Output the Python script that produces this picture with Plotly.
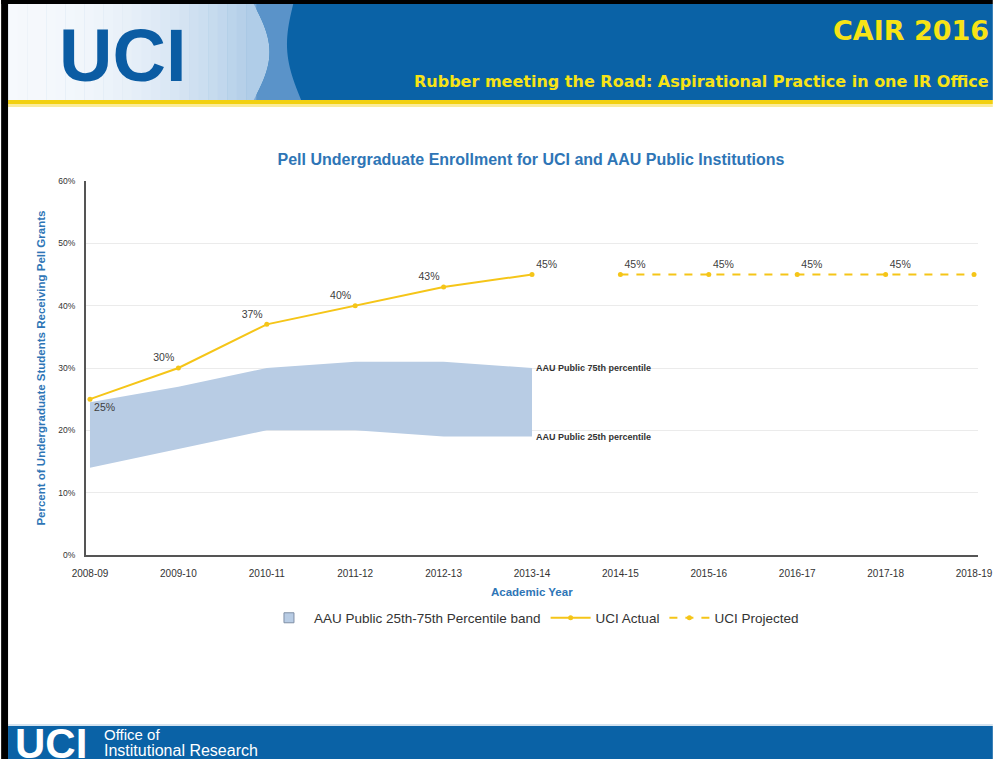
import math
import plotly.graph_objects as go

# ---------------- data ----------------
years = ["2008-09", "2009-10", "2010-11", "2011-12", "2012-13", "2013-14",
         "2014-15", "2015-16", "2016-17", "2017-18", "2018-19"]
actual_years = years[:6]
actual_vals = [25, 30, 37, 40, 43, 45]
proj_years = years[6:]
proj_vals = [45, 45, 45, 45, 45]
band_years = years[:6]
band_p25 = [14, 17, 20, 20, 19, 19]
band_p75 = [24.5, 27, 30, 31, 31, 30]
y_ticks = [0, 10, 20, 30, 40, 50, 60]
y_tick_labels = ["0%", "10%", "20%", "30%", "40%", "50%", "60%"]

# ---------------- geometry helpers ----------------
W, H = 1005, 759
L, R, T, B = 86, 15, 181, 204
PW, PH = W - L - R, H - T - B


def px(x):
    return (x - L) / PW


def py(y):
    return (H - B - y) / PH


BLUE = "#0A62A6"
YELLOW_LINE = "#F5C518"
TITLE_BLUE = "#2E75B6"
BAND = "#B8CCE4"
FONT = "Liberation Sans"

fig = go.Figure()

# band (lower invisible + upper filled)
fig.add_trace(go.Scatter(x=band_years, y=band_p25, mode="lines",
                         line=dict(width=0, color=BAND),
                         showlegend=False, hoverinfo="skip"))
fig.add_trace(go.Scatter(x=band_years, y=band_p75, mode="lines",
                         line=dict(width=0, color=BAND),
                         fill="tonexty", fillcolor=BAND,
                         showlegend=False,
                         name="AAU Public 25th-75th Percentile band"))
# legend entry for band (square swatch)
fig.add_trace(go.Scatter(x=[None], y=[None], mode="markers",
                         marker=dict(symbol="square", size=10, color=BAND,
                                     line=dict(color="#7F8FA6", width=1)),
                         name="AAU Public 25th-75th Percentile band"))

pos_actual = ["bottom right", "top left", "top left", "top left", "top left", "top right"]
fig.add_trace(go.Scatter(x=actual_years, y=actual_vals, mode="lines+markers+text",
                         line=dict(color=YELLOW_LINE, width=2),
                         marker=dict(size=5, color=YELLOW_LINE),
                         text=[f"{v}%" for v in actual_vals],
                         textposition=pos_actual,
                         textfont=dict(size=10.5, color="#404040", family=FONT),
                         name="UCI Actual"))
fig.add_trace(go.Scatter(x=proj_years, y=proj_vals, mode="lines+markers+text",
                         line=dict(color=YELLOW_LINE, width=2, dash="8px,8px"),
                         marker=dict(size=5, color=YELLOW_LINE),
                         text=[f"{v}%" for v in proj_vals],
                         textposition="top right",
                         textfont=dict(size=10.5, color="#404040", family=FONT),
                         name="UCI Projected"))

shapes = []


def rect(x0, y0, x1, y1, color, layer="above"):
    shapes.append(dict(type="rect", xref="paper", yref="paper",
                       x0=px(x0), x1=px(x1), y0=py(y1), y1=py(y0),
                       fillcolor=color, line=dict(width=0), layer=layer))


# banner
rect(7, 4, 1005, 100, BLUE)
# light gradient on left
n = 26
c0 = (246, 249, 253)
c1 = (176, 205, 232)
for i in range(n):
    xa = 7 + i * (258 - 7) / n
    xb = 7 + (i + 1) * (258 - 7) / n + 0.6
    f = (i / (n - 1)) ** 2.2
    c = tuple(int(c0[k] + (c1[k] - c0[k]) * f) for k in range(3))
    rect(xa, 4, xb, 100, "rgb(%d,%d,%d)" % c)


def path(pts_px):
    s = ""
    for i, (x, y) in enumerate(pts_px):
        s += ("M" if i == 0 else "L") + f"{px(x):.5f},{py(y):.5f} "
    return s + "Z"


# swoosh shapes
left_edge = [(256 + 16 * math.sin(math.pi * (y - 4) / 96), y) for y in range(4, 101, 4)]
right_edge = [(296 - 10 * math.sin(math.pi * (y - 4) / 96) + 8 * (y - 4) / 96, y)
              for y in range(100, 3, -4)]
shapes.append(dict(type="path", xref="paper", yref="paper",
                   path=path([(250, 4)] + left_edge + [(250, 100)]),
                   fillcolor="rgb(176,205,232)", line=dict(width=0)))
shapes.append(dict(type="path", xref="paper", yref="paper",
                   path=path(left_edge + right_edge),
                   fillcolor="rgba(110,160,210,0.8)", line=dict(width=0)))

# yellow stripe
rect(7, 100, 1005, 104, "#F2D00F")
rect(7, 104, 1005, 107, "#FAEB9A")
# footer
rect(7, 724, 1005, 726, "#D4E3F0")
rect(7, 726, 1005, 759, BLUE)
# black frame
rect(0, 0, 1005, 4, "#000000")
rect(0, 0, 7, 759, "#000000")

annotations = []


def text_px(x, y, s, size, color, bold=False, xanchor="center", family=FONT, angle=0):
    annotations.append(dict(xref="paper", yref="paper", x=px(x), y=py(y),
                            text=("<b>%s</b>" % s) if bold else s,
                            showarrow=False, xanchor=xanchor, yanchor="middle",
                            textangle=angle,
                            font=dict(size=size, color=color, family=family)))


text_px(123, 55, "UCI", 74, "#0B5CA3", bold=True)
text_px(1003, 31, "CAIR 2016", 27, "#F7E316", bold=True, xanchor="right", family="DejaVu Sans")
text_px(1003, 81, "Rubber meeting the Road: Aspirational Practice in one IR Office", 16,
        "#F7E316", bold=True, xanchor="right", family="DejaVu Sans")
text_px(51, 743, "UCI", 42, "#FFFFFF", bold=True)
text_px(102, 734.5, "Office of", 15, "#FFFFFF", xanchor="left")
text_px(102, 750.5, "Institutional Research", 16, "#FFFFFF", xanchor="left")

# axis titles
text_px(40, 368, "Percent of Undergraduate Students Receiving Pell Grants", 11.5,
        TITLE_BLUE, bold=True, angle=-90)
text_px(538, 592, "Academic Year", 11.5, TITLE_BLUE, bold=True)

# band labels (data coords)
for lab, yv in (("AAU Public 75th percentile", band_p75[-1]),
                ("AAU Public 25th percentile", band_p25[-1])):
    annotations.append(dict(x="2013-14", y=yv, xref="x", yref="y",
                            text="<b>%s</b>" % lab, showarrow=False,
                            xanchor="left", yanchor="middle", xshift=2,
                            font=dict(size=9, color="#333333", family=FONT)))

fig.update_layout(
    width=W, height=H, autosize=False,
    margin=dict(l=L, r=R, t=T, b=B, pad=0),
    paper_bgcolor="white", plot_bgcolor="white",
    font=dict(family=FONT, color="#333333"),
    title=dict(text="<b>Pell Undergraduate Enrollment for UCI and AAU Public Institutions</b>",
               x=px(537), xref="paper", xanchor="center",
               y=1 - 159 / H, yref="container", yanchor="middle",
               font=dict(size=16, color=TITLE_BLUE, family=FONT)),
    xaxis=dict(type="category", categoryorder="array", categoryarray=years,
               range=[-0.045, 10.045], showgrid=False,
               showline=True, linecolor="#555555", linewidth=2,
               ticks="", tickfont=dict(size=10, color="#333333"),
               ticklabelstandoff=8, zeroline=False, fixedrange=True),
    yaxis=dict(range=[0, 60], tickvals=y_ticks, ticktext=y_tick_labels,
               showgrid=True, gridcolor="#EBEBEB", gridwidth=1,
               showline=True, linecolor="#555555", linewidth=2,
               tickfont=dict(size=8.5, color="#333333"), ticks="",
               ticklabelstandoff=7, zeroline=False),
    legend=dict(orientation="h", x=px(540), xanchor="center",
                y=py(618), yanchor="middle", traceorder="normal",
                font=dict(size=13.5, color="#333333", family=FONT),
                bgcolor="rgba(0,0,0,0)", itemwidth=40, tracegroupgap=0),
    shapes=shapes,
    annotations=annotations,
    showlegend=True,
)

fig.write_html(
    "out.html",
    config={"displayModeBar": False, "responsive": False},
    post_script=("document.documentElement.style.overflow='hidden';"
                 "document.body.style.overflow='hidden';"
                 "document.body.style.margin='0px';"
                 "document.body.style.padding='0px';"
                 "var gd=document.getElementById('{plot_id}');"
                 "gd.style.width='1005px';gd.style.height='759px';"
                 "Plotly.relayout(gd,{width:1005,height:759});"),
)
